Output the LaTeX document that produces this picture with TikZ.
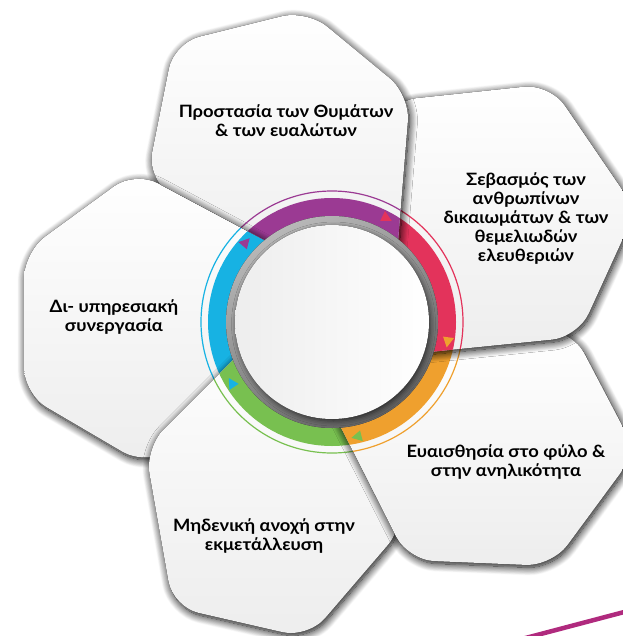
\documentclass[tikz,border=0pt]{standalone}
\usepackage{fontspec}
\setmainfont{Lato}[FakeStretch=1.08]
\usetikzlibrary{shadows.blur}

\definecolor{cpurple}{HTML}{9B3A93}
\definecolor{cred}{HTML}{E3335B}
\definecolor{corange}{HTML}{EFA02E}
\definecolor{cgreen}{HTML}{78C050}
\definecolor{cblue}{HTML}{17B2E3}
\definecolor{cmagenta}{HTML}{B02A7E}

\tikzset{
  shade petal/.style={blur shadow={shadow xshift=1.5pt, shadow yshift=-2.5pt,
      shadow blur radius=8pt, shadow opacity=100, shadow blur steps=14}},
  petal/.style={rounded corners=26, top color=white, bottom color=black!7, shade petal},
  band/.style={draw=#1, line width=18},
  rim/.style={draw=#1, line width=1.2},
  lbl/.style={align=center, inner sep=0pt,
    font=\fontsize{17}{19}\selectfont\bfseries},
}

% petal outlines (x to the right, y downwards)
\def\pA{(290,275) -- (147,178) -- (174,43) -- (307,10) -- (410,95) -- (394,290) -- cycle}
\def\pB{(340,300) -- (390,101) -- (550,84) -- (636,210) -- (578,337) -- (390,356) -- cycle}
\def\pC{(321,388) -- (410,330) -- (572,330) -- (636,452) -- (552,566) -- (408,560) -- cycle}
\def\pD{(275,318) -- (145,448) -- (173,607) -- (308,638) -- (405,525) -- (366,381) -- cycle}
\def\pE{(300,259) -- (135,171) -- (24,252) -- (24,394) -- (145,465) -- (300,380) -- cycle}

\begin{document}
\begin{tikzpicture}[x=1pt, y=-1pt]
  \useasboundingbox (0,0) rectangle (622,636);
  \coordinate (c) at (332,322);

  % petals, each one under its clockwise neighbour
  \foreach \p/\c in {\pE/cblue, \pD/cgreen, \pC/corange, \pB/cred}{
    \fill[petal] \p;
    \begin{scope}
      \clip[rounded corners=26] \p;
      \draw[band=\c] (c) circle[radius=115];
      \draw[rim=\c] (c) circle[radius=131];
    \end{scope}
  }

  % top petal: over the right one, but kept under the left one
  \begin{scope}[even odd rule]
    \clip[rounded corners=26] (-50,-50) rectangle (700,700) \pE;
    \fill[petal] \pA;
    \begin{scope}
      \clip[rounded corners=26] \pA;
      \draw[band=cpurple] (c) circle[radius=115];
      \draw[rim=cpurple] (c) circle[radius=131];
    \end{scope}
  \end{scope}
  \begin{scope}[even odd rule]
    \clip[rounded corners=26] \pA;
    \clip[rounded corners=26] (-50,-50) rectangle (700,700) \pE;
    \path[rounded corners=26, shade petal] \pE;
  \end{scope}

  % small arrow heads on the ring
  \begin{scope}[shift={(c)}]
    \foreach \a/\c in {298/cred, 10/corange, 78/cgreen, 149/cblue, 223/cpurple}
      \fill[\c] (\a+2.5:117.5) -- (\a-2.5:112) -- (\a-2.5:123) -- cycle;
  \end{scope}

  % centre disc
  \fill[top color=black!28, bottom color=black!62, shading angle=30] (c) circle[radius=106];
  \fill[left color=black!7, right color=white,
    blur shadow={shadow xshift=1.5pt, shadow yshift=-2pt, shadow blur radius=5pt, shadow opacity=60}]
    (c) circle[radius=97];

  \draw[cmagenta, line width=4.5] (518,640) -- (628,611);

  \node[lbl] (prostasia) at (286,121) {Προστασία των Θυμάτων\\\& των ευαλώτων};
  \node[lbl] (sevasmos) at (526,219) {Σεβασμός των\\ανθρωπίνων\\δικαιωμάτων \& των\\θεμελιωδών\\ελευθεριών};
  \node[lbl] (euaisthisia) at (506,462) {Ευαισθησία στο φύλο \&\\στην ανηλικότητα};
  \node[lbl] (midenikh) at (264,536) {Μηδενική ανοχή στην\\εκμετάλλευση};
  \node[lbl] (synergasia) at (114,317) {Δι- υπηρεσιακή\\συνεργασία};
\end{tikzpicture}
\end{document}
